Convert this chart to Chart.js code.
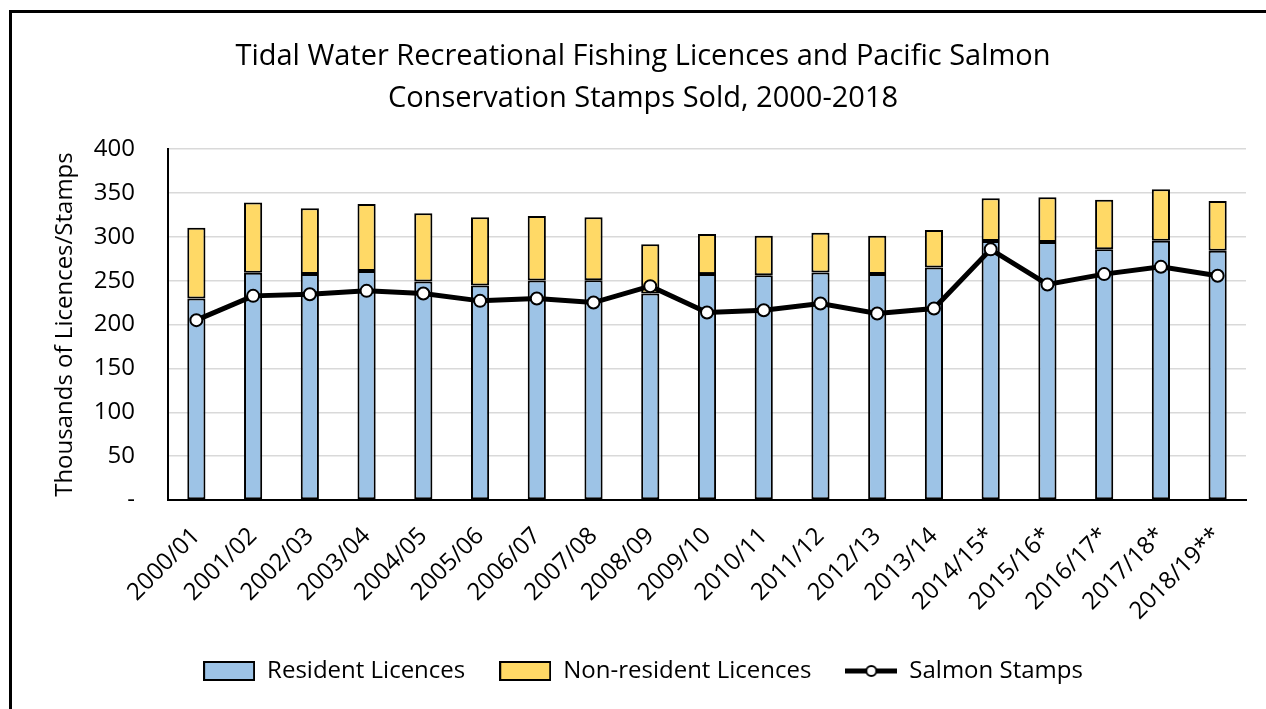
<!DOCTYPE html>
<html lang="en">
<head>
    <meta charset="UTF-8">
    <title>Tidal Water Recreational Fishing Licences</title>
    <script src="https://cdn.jsdelivr.net/npm/chart.js"></script>
    <style>
        body { margin: 0; background: #fff; }
        .frame { position: absolute; left: 9px; top: 10px; width: 1300px; height: 760px;
                 border-top: 3px solid #000; border-left: 3px solid #000; }
        .wrap { position: absolute; left: 0; top: 0; width: 1266px; height: 709px; }
    </style>
</head>
<body>
    <div class="frame"></div>
    <div class="wrap"><canvas id="fishChart"></canvas></div>

    <script>
        // Seasons
        var seasons = ['2000/01', '2001/02', '2002/03', '2003/04', '2004/05', '2005/06', '2006/07',
                       '2007/08', '2008/09', '2009/10', '2010/11', '2011/12', '2012/13', '2013/14',
                       '2014/15*', '2015/16*', '2016/17*', '2017/18*', '2018/19**'];

        // Thousands
        var residentLicences = [229.7, 259.0, 257.5, 261.0, 249.0, 244.6, 250.2, 250.6, 235.4, 257.5,
                                256.3, 259.4, 257.5, 265.1, 295.2, 294.0, 285.7, 295.5, 284.1];
        var nonResidentLicences = [80.7, 80.0, 75.1, 76.5, 77.8, 77.7, 73.6, 71.7, 56.0, 45.7,
                                   45.0, 45.3, 43.8, 42.7, 48.8, 51.1, 56.7, 58.8, 56.8];
        var salmonStamps = [205.0, 232.7, 234.6, 238.4, 235.4, 227.0, 229.7, 225.1, 243.8, 213.7,
                            216.3, 224.0, 212.6, 218.3, 285.7, 245.7, 257.5, 265.8, 255.6];

        var font = "'Open Sans', sans-serif";

        // petites images pour la légende
        function swatchBox(fill) {
            var c = document.createElement('canvas');
            c.width = 52; c.height = 20;
            var g = c.getContext('2d');
            g.fillStyle = fill;
            g.fillRect(1, 1, 50, 18);
            g.strokeStyle = '#000';
            g.lineWidth = 2;
            g.strokeRect(1, 1, 50, 18);
            return c;
        }
        function swatchLine() {
            var c = document.createElement('canvas');
            c.width = 52; c.height = 20;
            var g = c.getContext('2d');
            g.strokeStyle = '#000';
            g.lineWidth = 5;
            g.beginPath(); g.moveTo(0, 10); g.lineTo(52, 10); g.stroke();
            g.beginPath(); g.arc(26, 10, 5, 0, Math.PI * 2);
            g.fillStyle = '#fff'; g.fill();
            g.lineWidth = 2; g.stroke();
            return c;
        }
        var swatches = [swatchBox('#9DC3E6'), swatchBox('#FFD966'), swatchLine()];

        var data = {
            labels: seasons,
            datasets: [{
                type: 'bar',
                label: 'Resident Licences',
                data: residentLicences,
                backgroundColor: '#9DC3E6',
                borderColor: '#000',
                borderWidth: 2,
                borderSkipped: false,
                order: 1
            }, {
                type: 'bar',
                label: 'Non-resident Licences',
                data: nonResidentLicences,
                backgroundColor: '#FFD966',
                borderColor: '#000',
                borderWidth: 2,
                borderSkipped: false,
                order: 1
            }, {
                type: 'line',
                label: 'Salmon Stamps',
                data: salmonStamps,
                stack: 'stamps',
                borderColor: '#000',
                borderWidth: 5,
                backgroundColor: '#fff',
                pointBackgroundColor: '#fff',
                pointBorderColor: '#000',
                pointBorderWidth: 2,
                pointRadius: 6,
                tension: 0,
                order: 0
            }]
        };

        var config = {
            type: 'bar',
            data: data,
            options: {
                responsive: false,
                animation: false,
                datasets: { bar: { barPercentage: 0.32, categoryPercentage: 1 } },
                layout: { padding: { left: 40, right: 20, top: 0, bottom: 16 } },
                plugins: {
                    title: {
                        display: true,
                        text: ['Tidal Water Recreational Fishing Licences and Pacific Salmon',
                               'Conservation Stamps Sold, 2000-2018'],
                        color: '#000',
                        font: { family: font, size: 29, weight: 'normal', lineHeight: 1.45 },
                        padding: { top: 36, bottom: 29 }
                    },
                    legend: {
                        position: 'bottom',
                        labels: {
                            color: '#000',
                            font: { family: font, size: 24 },
                            usePointStyle: true,
                            pointStyleWidth: 52,
                            boxHeight: 20,
                            padding: 34,
                            sort: function (a, b) { return a.datasetIndex - b.datasetIndex; },
                            generateLabels: function (chart) {
                                var items = Chart.defaults.plugins.legend.labels.generateLabels(chart);
                                items.forEach(function (it) { it.pointStyle = swatches[it.datasetIndex]; });
                                return items;
                            }
                        }
                    },
                    tooltip: { enabled: false }
                },
                scales: {
                    x: {
                        stacked: true,
                        grid: { display: false, drawTicks: false },
                        border: { color: '#000', width: 2 },
                        ticks: {
                            color: '#000',
                            font: { family: font, size: 24 },
                            minRotation: 45,
                            maxRotation: 45,
                            padding: 22,
                            autoSkip: false
                        },
                        afterFit: function (scale) { scale.height = 125; }
                    },
                    y: {
                        stacked: true,
                        min: 0,
                        max: 400,
                        grid: { color: '#d9d9d9', lineWidth: 1.5, drawTicks: false },
                        border: { color: '#000', width: 2 },
                        ticks: {
                            stepSize: 50,
                            color: '#000',
                            font: { family: font, size: 24 },
                            padding: 33,
                            callback: function (v) { return v === 0 ? '-' : v; }
                        },
                        title: {
                            display: true,
                            text: 'Thousands of Licences/Stamps',
                            color: '#000',
                            font: { family: font, size: 24 },
                            padding: { top: 11, bottom: 0 }
                        },
                        afterFit: function (scale) { scale.width = 128; }
                    }
                }
            }
        };

        var canvas = document.getElementById('fishChart');
        canvas.width = 1266;
        canvas.height = 709;
        var fishChart = new Chart(canvas, config);
    </script>
</body>
</html>
